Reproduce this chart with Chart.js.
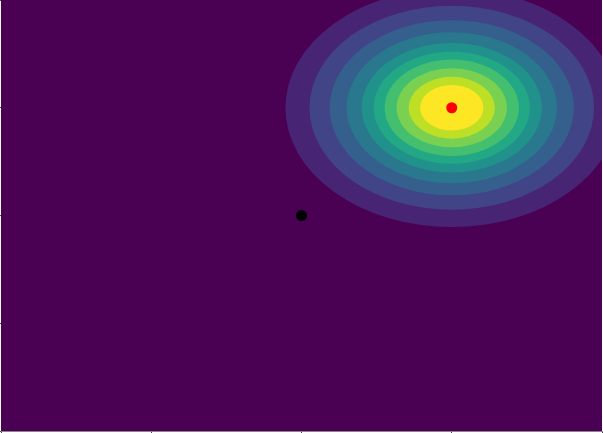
<!DOCTYPE html>
<html>
<head>
<meta charset="utf-8">
<script src="https://cdn.jsdelivr.net/npm/chart.js@4/dist/chart.umd.min.js"></script>
<style>
  html, body { margin: 0; padding: 0; background: #ffffff; }
  #wrap { width: 603px; height: 433px; }
</style>
</head>
<body>
<div id="wrap"><canvas id="c" width="603" height="433"></canvas></div>
<script>
// Axis ranges and tick positions
const xRange = [-2, 2];
const yRange = [-2, 2];
const tickStep = 1;

// Peak of the field (red marker) and the reference point (black marker)
const peakPoint = [{ x: 1, y: 1 }];
const originPoint = [{ x: 0, y: 0 }];

// Filled contour bands: radius (data units) of each
// band's outer boundary, from outermost to innermost, and its fill colour
const bandRadius = [1.107, 0.947, 0.813, 0.70, 0.60, 0.52, 0.447, 0.367, 0.287, 0.211];
const bandColors = ['#482475', '#414487', '#355f8d', '#2a788e', '#21918c',
                    '#22a884', '#44bf70', '#7ad151', '#bddf26', '#fde725'];
const backgroundColor = '#4a0153';

const contourPlugin = {
  id: 'contourBands',
  beforeDatasetsDraw(chart) {
    const { ctx, chartArea, scales } = chart;
    const xs = scales.x, ys = scales.y;
    ctx.save();
    ctx.beginPath();
    ctx.rect(chartArea.left, chartArea.top, chartArea.right - chartArea.left, chartArea.bottom - chartArea.top);
    ctx.clip();
    ctx.fillStyle = backgroundColor;
    ctx.fillRect(chartArea.left, chartArea.top, chartArea.right - chartArea.left, chartArea.bottom - chartArea.top);
    const cx = xs.getPixelForValue(peakPoint[0].x);
    const cy = ys.getPixelForValue(peakPoint[0].y);
    bandRadius.forEach((r, i) => {
      const rx = Math.abs(xs.getPixelForValue(peakPoint[0].x + r) - cx);
      const ry = Math.abs(ys.getPixelForValue(peakPoint[0].y + r) - cy);
      ctx.beginPath();
      ctx.ellipse(cx, cy, rx, ry, 0, 0, Math.PI * 2);
      ctx.fillStyle = bandColors[i];
      ctx.fill();
    });
    ctx.restore();
  }
};

new Chart(document.getElementById('c'), {
  type: 'scatter',
  data: {
    datasets: [
      { data: originPoint, backgroundColor: '#000000', borderWidth: 0, pointRadius: 5.5 },
      { data: peakPoint, backgroundColor: '#ff0000', borderWidth: 0, pointRadius: 5.5 }
    ]
  },
  options: {
    responsive: false,
    animation: false,
    layout: { autoPadding: false, padding: { top: 0, right: 1, bottom: 0, left: 0 } },
    plugins: { legend: { display: false }, tooltip: { enabled: false } },
    scales: {
      x: {
        min: xRange[0], max: xRange[1],
        ticks: { display: false, stepSize: tickStep },
        grid: { drawOnChartArea: false, drawTicks: true, tickLength: 2, color: '#444444' },
        border: { display: true, color: '#888888', width: 1 }
      },
      y: {
        min: yRange[0], max: yRange[1],
        ticks: { display: false, stepSize: tickStep },
        grid: { drawOnChartArea: false, drawTicks: true, tickLength: 1, color: '#444444' },
        border: { display: true, color: '#888888', width: 1 }
      }
    }
  },
  plugins: [contourPlugin]
});
</script>
</body>
</html>
